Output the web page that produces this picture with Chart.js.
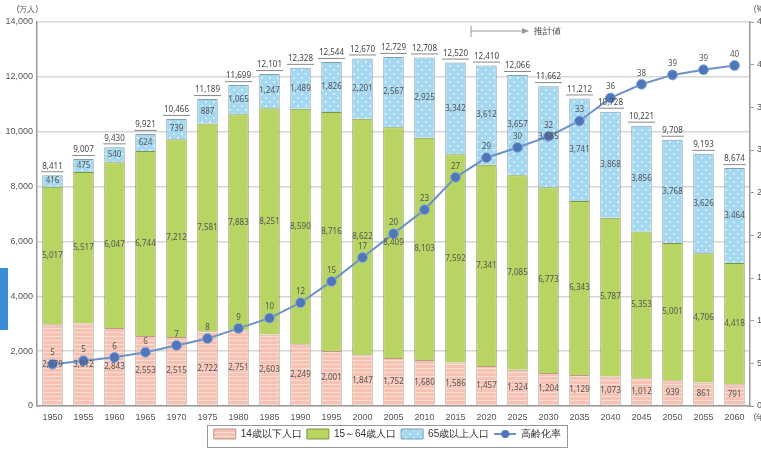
<!DOCTYPE html>
<html>
<head>
<meta charset="utf-8">
<script src="https://cdn.jsdelivr.net/npm/chart.js@4.4.0/dist/chart.umd.min.js"></script>
<style>
  html, body { margin: 0; padding: 0; background: #fff; overflow: hidden; }
  #wrap { position: relative; width: 775px; height: 450px; }
  #marca { position: absolute; left: 0; top: 268px; width: 8px; height: 62px; background: #3b8ed6; }
</style>
</head>
<body>
<div id="wrap">
  <canvas id="grafico" width="775" height="450"></canvas>
  <div id="marca"></div>
</div>
<script>
// --- DADOS ---
const anos = ['1950','1955','1960','1965','1970','1975','1980','1985','1990','1995','2000','2005','2010','2015','2020','2025','2030','2035','2040','2045','2050','2055','2060'];
const pop0a14 = [2979,3012,2843,2553,2515,2722,2751,2603,2249,2001,1847,1752,1680,1586,1457,1324,1204,1129,1073,1012,939,861,791];
const pop15a64 = [5017,5517,6047,6744,7212,7581,7883,8251,8590,8716,8622,8409,8103,7592,7341,7085,6773,6343,5787,5353,5001,4706,4418];
const pop65mais = [416,475,540,624,739,887,1065,1247,1489,1826,2201,2567,2925,3342,3612,3657,3685,3741,3868,3856,3768,3626,3464];
const totais = [8411,9007,9430,9921,10466,11189,11699,12101,12328,12544,12670,12729,12708,12520,12410,12066,11662,11212,10728,10221,9708,9193,8674];
const taxaEnvelhecimento = [4.9,5.3,5.7,6.3,7.1,7.9,9.1,10.3,12.1,14.6,17.4,20.2,23.0,26.8,29.1,30.3,31.6,33.4,36.1,37.7,38.8,39.4,39.9];
const rotulosTaxa = ['5','5','6','6','7','8','9','10','12','15','17','20','23','27','29','30','32','33','36','38','39','39','40'];
const ticksEsquerda = [0,2000,4000,6000,8000,10000,12000,14000];

// padrões de preenchimento
function padraoListras() {
  const c = document.createElement('canvas'); c.width = 6; c.height = 4;
  const g = c.getContext('2d');
  g.fillStyle = '#f6c2b4'; g.fillRect(0,0,6,4);
  g.fillStyle = '#fbdcd2'; g.fillRect(0,0,6,1);
  return g.createPattern(c, 'repeat');
}
function padraoPontos() {
  const c = document.createElement('canvas'); c.width = 8; c.height = 8;
  const g = c.getContext('2d');
  g.fillStyle = '#a4d8f1'; g.fillRect(0,0,8,8);
  g.fillStyle = '#e4f4fb';
  g.beginPath(); g.arc(2,2,1,0,Math.PI*2); g.fill();
  g.beginPath(); g.arc(6,6,1,0,Math.PI*2); g.fill();
  return g.createPattern(c, 'repeat');
}
// marcador da legenda para a linha (linha + ponto)
function marcadorLinha() {
  const c = document.createElement('canvas'); c.width = 22; c.height = 10;
  const g = c.getContext('2d');
  g.strokeStyle = '#6d92c6'; g.lineWidth = 2;
  g.beginPath(); g.moveTo(0,5); g.lineTo(22,5); g.stroke();
  g.fillStyle = '#4f76b9';
  g.beginPath(); g.arc(11,5,4,0,Math.PI*2); g.fill();
  return c;
}

const fmt = v => v.toLocaleString('en-US');

// rótulos e anotações
const rotulosPlugin = {
  id: 'rotulos',
  afterDatasetsDraw(chart) {
    const ctx = chart.ctx;
    const area = chart.chartArea;
    ctx.save();
    ctx.textAlign = 'center';
    ctx.textBaseline = 'middle';
    ctx.font = '8px "Noto Sans", sans-serif';
    // valores dentro dos segmentos
    [0,1,2].forEach(i => {
      const meta = chart.getDatasetMeta(i);
      meta.data.forEach((bar, j) => {
        const mid = (bar.y + bar.base) / 2;
        ctx.fillStyle = '#555';
        ctx.fillText(fmt(chart.data.datasets[i].data[j]), bar.x, mid);
      });
    });
    // totais com sublinhado
    const topo = chart.getDatasetMeta(2);
    topo.data.forEach((bar, j) => {
      const y = bar.y - 9;
      const t = fmt(totais[j]);
      ctx.fillStyle = '#444';
      ctx.fillText(t, bar.x, y);
      const w = ctx.measureText(t).width;
      ctx.strokeStyle = '#888'; ctx.lineWidth = 1;
      ctx.beginPath(); ctx.moveTo(bar.x - w/2 - 1, y + 5.5); ctx.lineTo(bar.x + w/2 + 1, y + 5.5); ctx.stroke();
    });
    // unidades
    ctx.fillStyle = '#555';
    ctx.textAlign = 'left';
    ctx.fillText('(万人)', 17, 10);
    ctx.fillText('(%)', area.right + 4, 10);
    ctx.fillText('(年)', area.right + 4, area.bottom + 12);
    // 推計値
    const xs = chart.scales.x;
    const xDiv = (xs.getPixelForValue(13) + xs.getPixelForValue(14)) / 2;
    ctx.strokeStyle = '#999'; ctx.lineWidth = 1;
    ctx.beginPath(); ctx.moveTo(xDiv, 26); ctx.lineTo(xDiv, 37); ctx.stroke();
    ctx.beginPath(); ctx.moveTo(xDiv, 31); ctx.lineTo(xDiv + 52, 31); ctx.stroke();
    ctx.fillStyle = '#999';
    ctx.beginPath(); ctx.moveTo(xDiv + 58, 31); ctx.lineTo(xDiv + 51, 28); ctx.lineTo(xDiv + 51, 34); ctx.closePath(); ctx.fill();
    ctx.fillStyle = '#444';
    ctx.font = '9px "Noto Sans", sans-serif';
    ctx.fillText('推計値', xDiv + 63, 31);
    ctx.restore();
  },
  afterDraw(chart) {
    const ctx = chart.ctx;
    // rótulos da taxa
    const meta = chart.getDatasetMeta(3);
    ctx.save();
    ctx.textAlign = 'center';
    ctx.textBaseline = 'middle';
    ctx.font = '8px "Noto Sans", sans-serif';
    ctx.fillStyle = '#555';
    meta.data.forEach((p, j) => {
      ctx.fillText(rotulosTaxa[j], p.x, p.y - 11);
    });
    // moldura da legenda
    const lg = chart.legend;
    ctx.strokeStyle = '#999'; ctx.lineWidth = 1;
    const w = lg.lineWidths[0];
    const x0 = lg.left + (lg.width - w) / 2 - 4;
    ctx.strokeRect(Math.round(x0) + 0.5, lg.top + 1.5, Math.round(w + 8), lg.height - 3);
    ctx.restore();
  }
};

const ctx = document.getElementById('grafico').getContext('2d');
new Chart(ctx, {
  data: {
    labels: anos,
    datasets: [
      { type: 'bar', label: '14歳以下人口', data: pop0a14, backgroundColor: padraoListras(), borderColor: '#b99a8c', borderWidth: 1, yAxisID: 'y', order: 2 },
      { type: 'bar', label: '15～64歳人口', data: pop15a64, backgroundColor: '#b8d463', borderColor: '#7f9440', borderWidth: 1, yAxisID: 'y', order: 2 },
      { type: 'bar', label: '65歳以上人口', data: pop65mais, backgroundColor: padraoPontos(), borderColor: '#7b9fb3', borderWidth: 1, yAxisID: 'y', order: 2 },
      { type: 'line', label: '高齢化率', data: taxaEnvelhecimento, yAxisID: 'y1', order: 1,
        borderColor: '#6d92c6', borderWidth: 2, backgroundColor: '#4f76b9', pointBackgroundColor: '#4f76b9',
        pointBorderColor: '#8fb0dc', pointBorderWidth: 1, pointRadius: 5, tension: 0 }
    ]
  },
  options: {
    responsive: false,
    animation: false,
    layout: { padding: { top: 22, bottom: 1, left: 0, right: 0 } },
    datasets: { bar: { categoryPercentage: 0.66, barPercentage: 1 } },
    scales: {
      x: {
        stacked: true,
        grid: { display: false, drawTicks: false },
        border: { color: '#999', width: 1.5 },
        ticks: { color: '#555', font: { size: 9 }, padding: 6, maxRotation: 0, autoSkip: false },
        afterFit: s => { s.height = 18; }
      },
      y: {
        stacked: true, min: 0, max: 14000,
        afterBuildTicks: s => { s.ticks = ticksEsquerda.map(v => ({ value: v })); },
        grid: { color: '#d6d6d6', lineWidth: 1.5, drawTicks: false },
        border: { color: '#999', width: 1.5 },
        ticks: { color: '#555', font: { size: 9 }, padding: 4, callback: v => fmt(v) },
        afterFit: s => { s.width = 37; }
      },
      y1: {
        position: 'right', min: 0, max: 45,
        ticks: { stepSize: 5, color: '#555', font: { size: 9 }, padding: 3 },
        grid: { drawOnChartArea: false, color: '#999', tickLength: 4 },
        border: { color: '#999', width: 1.5 },
        afterFit: s => { s.width = 25; }
      }
    },
    plugins: {
      legend: {
        position: 'bottom',
        labels: {
          color: '#333', font: { size: 10 }, usePointStyle: true, pointStyleWidth: 22, boxHeight: 14, padding: 5,
          generateLabels: ch => {
            const ds = ch.data.datasets;
            return ds.map((d, i) => ({
              text: d.label, datasetIndex: i,
              fillStyle: d.backgroundColor,
              strokeStyle: d.borderColor,
              lineWidth: 1,
              pointStyle: i === 3 ? marcadorLinha() : 'rect',
              fontColor: '#333'
            }));
          }
        }
      },
      tooltip: { enabled: false }
    }
  },
  plugins: [rotulosPlugin]
});
</script>
</body>
</html>
